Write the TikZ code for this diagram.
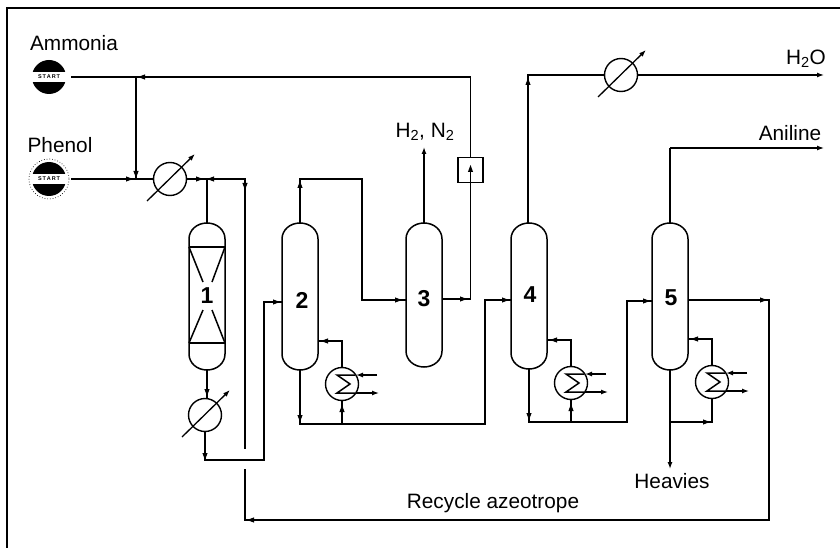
\documentclass[tikz,border=0pt]{standalone}
\usepackage{fontspec}
\setmainfont{Liberation Sans}
\usetikzlibrary{arrows.meta,calc}
\tikzset{
  x=1pt,y=-1pt,
  pipe/.style={line width=1.3pt,line join=miter},
  tipend/.style={-{Latex[length=7pt,width=5pt]}},
  vessel/.style={line width=1.5pt},
  label/.style={font=\fontsize{20.8}{24}\selectfont,inner sep=0pt},
  numlabel/.style={font=\fontsize{23}{26}\selectfont\bfseries,inner sep=0pt},
  hx/.style={circle,draw,line width=1.4pt,minimum size=33pt,inner sep=0pt,outer sep=0pt},
  colbox/.style={rectangle,minimum width=36pt,inner sep=0pt,outer sep=0pt},
  startbox/.style={circle,minimum size=34pt,inner sep=0pt,outer sep=5pt},
  framebox/.style={line width=1.2pt},
}
% mid-line arrow tip at a coordinate, pointing along the angle
\newcommand{\tipat}[2]{\fill[shift={(#1)},rotate=#2] (4,0) -- (-3,2.6) -- (-3,-2.6) -- cycle;}
% column: name, centre x, top y, bottom y
\newcommand{\columnunit}[4]{%
  \node[colbox,minimum height={#4-#3}] (#1) at (#2,{(#3+#4)/2}) {};
  \draw[vessel] ([yshift=-16pt]#1.north west) .. controls +(0,-9) and +(-10,0) .. (#1.north)
     .. controls +(10,0) and +(0,-9) .. ([yshift=-16pt]#1.north east)
     -- ([yshift=16pt]#1.south east)
     .. controls +(0,9) and +(10,0) .. (#1.south)
     .. controls +(-10,0) and +(0,9) .. ([yshift=16pt]#1.south west)
     -- cycle;
}
% cooler with diagonal arrow
\newcommand{\coolerunit}[3]{%
  \node[hx] (#1) at (#2,#3) {};
  \draw[pipe,-{Latex[length=7pt,width=5pt]}] ($(#1)+(-23,22)$) -- ($(#1)+(25,-25)$);
}
% reboiler with zigzag and side arrows
\newcommand{\reboilerunit}[3]{%
  \node[hx] (#1) at (#2,#3) {};
  \draw[line width=1.5pt] ($(#1)+(13,-9)$) -- ($(#1)+(-5,-9)$) -- ($(#1)+(8,0)$) -- ($(#1)+(-5,9)$) -- ($(#1)+(13,9)$);
  \draw[pipe,tipend] ($(#1)+(35,-9)$) -- ($(#1)+(14,-9)$);
  \draw[pipe,tipend] ($(#1)+(14,9)$) -- ($(#1)+(37,9)$);
}
% start symbol
\newcommand{\startunit}[3]{%
  \node[startbox] (#1) at (#2,#3) {};
  \fill (#2,#3) circle (17);
  \fill[white] (#2-19,#3-4.5) rectangle (#2+19,#3+5);
  \node[inner sep=0pt,font=\fontsize{5.5}{6}\bfseries\selectfont] (#1text) at (#2,#3) {S\,T\,A\,R\,T};
}
\begin{document}
\begin{tikzpicture}
\useasboundingbox (0,0) rectangle (840,548);
% frame
\coordinate (fa) at (7,548); \coordinate (fb) at (7,8); \coordinate (fc) at (840,8);
\draw[framebox] (fa) -- (fb) -- (fc);

% labels
\node[label] (lamm) at (74,43) {Ammonia};
\node[label] (lphe) at (60,145) {Phenol};
\node[label] (lh) at (425,132) {H\textsubscript{2}, N\textsubscript{2}};
\node[label] (lw) at (806,59) {H\textsubscript{2}O};
\node[label] (lan) at (790,133) {Aniline};
\node[label] (lhv) at (672,481) {Heavies};
\node[label] (lre) at (493,503) {Recycle azeotrope};

% start symbols
\startunit{amm}{49}{77}
\startunit{phe}{49}{179}
\draw[dotted,line width=.7pt] (phe) circle (20);

% equipment
\columnunit{c1}{207}{223}{370}
\columnunit{c2}{300}{223}{370}
\columnunit{c3}{424}{223}{367}
\columnunit{c4}{529}{223}{369}
\columnunit{c5}{670}{223}{370}
\node[numlabel] (n1) at (207,296) {1};
\node[numlabel] (n2) at (302,300) {2};
\node[numlabel] (n3) at (424,299) {3};
\node[numlabel] (n4) at (530,295) {4};
\node[numlabel] (n5) at (671,298) {5};

% reactor internals
\coordinate (rtl) at (189,247); \coordinate (rtr) at (225,247);
\coordinate (rbl) at (189,343); \coordinate (rbr) at (225,343);
\coordinate (rxa) at (203,282); \coordinate (rxb) at (212,282);
\coordinate (rxc) at (203,310); \coordinate (rxd) at (212,310);
\draw[vessel] (rtl) -- (rtr);
\draw[vessel] (rbl) -- (rbr);
\draw[vessel] (rtl) -- (rxa);
\draw[vessel] (rtr) -- (rxb);
\draw[vessel] (rbl) -- (rxc);
\draw[vessel] (rbr) -- (rxd);

\coolerunit{x1}{170}{179}
\coolerunit{x2}{205}{415}
\coolerunit{x3}{621}{75}
\reboilerunit{r2}{342}{384}
\reboilerunit{r4}{571}{383}
\reboilerunit{r5}{712}{382}
\node[draw,line width=1.4pt,minimum size=25pt,inner sep=0pt,outer sep=0pt] (box) at (470.5,170) {};

% junction coordinates
\coordinate (j1) at (136,77);
\coordinate (j2) at (136,179);
\coordinate (j3) at (207,179);
\coordinate (j4) at (245,179);
\coordinate (j5) at (245,449);
\coordinate (j6) at (245,469);
\coordinate (j7) at (245,520);
\coordinate (j8) at (769,520);
\coordinate (j9) at (769,300);
\coordinate (j10) at (205,460);
\coordinate (j11) at (264,460);
\coordinate (j12) at (264,302);
\coordinate (j13) at (300,179);
\coordinate (j14) at (362,179);
\coordinate (j15) at (362,300);
\coordinate (j16) at (300,424);
\coordinate (j17) at (342,424);
\coordinate (j18) at (485,424);
\coordinate (j19) at (485,300);
\coordinate (j20) at (470.5,299);
\coordinate (j21) at (470.5,77);
\coordinate (j22) at (528,75);
\coordinate (j23) at (529,422);
\coordinate (j24) at (571,422);
\coordinate (j25) at (627,422);
\coordinate (j26) at (627,301);
\coordinate (j27) at (670,148);
\coordinate (j28) at (670,422);
\coordinate (j29) at (712,422);
\coordinate (e1) at (424,147);
\coordinate (e2) at (824,75);
\coordinate (e3) at (824,148);
\coordinate (e4) at (670,469);

% pipes
\draw[pipe] (amm.east) -- (j1) -- (j21) -- (box.north);
\draw[pipe] (j1) -- (j2);
\draw[pipe] (phe.east) -- (x1.west);
\draw[pipe] (x1.east) -- (j4) -- (j5);
\draw[pipe] (j3) -- (c1.north);
\draw[pipe] (j6) -- (j7) -- (j8) -- (j9) -- (c5.east |- j9);
\draw[pipe] (c1.south) -- (c1.south |- x2.north);
\draw[pipe] (x2.south) -- (j10) -- (j11) -- (j12) -- (c2.west |- j12);
\draw[pipe] (c2.north) -- (j13) -- (j14) -- (j15) -- (c3.west |- j15);
\draw[pipe] (c2.south) -- (j16) -- (j18) -- (j19) -- (c4.west |- j19);
\draw[pipe] (r2.south) -- (j17);
\draw[pipe] (r2.north) |- (c2.east |- 0,341);
\draw[pipe,tipend] (c3.north) -- (e1);
\draw[pipe] (c3.east |- j20) -- (j20) -- ($(box.south)+(0,-13)$);
\draw[pipe] (c4.north -| j22) -- (j22) -- (x3.west);
\draw[pipe,tipend] (x3.east) -- (e2);
\draw[pipe] (c4.south) -- (j23) -- (j25) -- (j26) -- (c5.west |- j26);
\draw[pipe] (r4.south) -- (j24);
\draw[pipe] (r4.north) |- (c4.east |- 0,340);
\draw[pipe] (c5.north) -- (j27);
\draw[pipe,tipend] (j27) -- (e3);
\draw[pipe,tipend] (c5.south) -- (e4);
\draw[pipe] (j28) -- (j29) -- (r5.south);
\draw[pipe] (r5.north) |- (c5.east |- 0,339);

% mid-line arrow tips
\tipat{142,77}{180}
\tipat{136,174}{-90}
\tipat{129,179}{0}
\tipat{199,179}{0}
\tipat{211,179}{180}
\tipat{245,186}{-90}
\tipat{207,392}{-90}
\tipat{205,456}{-90}
\tipat{276,302}{0}
\tipat{300,185}{90}
\tipat{398,300}{0}
\tipat{300,418}{-90}
\tipat{342,409}{90}
\tipat{325,341}{180}
\tipat{505,300}{0}
\tipat{528,82}{90}
\tipat{529,416}{-90}
\tipat{571,408}{90}
\tipat{554,340}{180}
\tipat{646,301}{0}
\tipat{695,339}{180}
\tipat{706,422}{0}
\tipat{763,300}{0}
\tipat{470.5,169}{90}
\tipat{463,299}{0}
\tipat{251,520}{180}
\end{tikzpicture}
\end{document}
